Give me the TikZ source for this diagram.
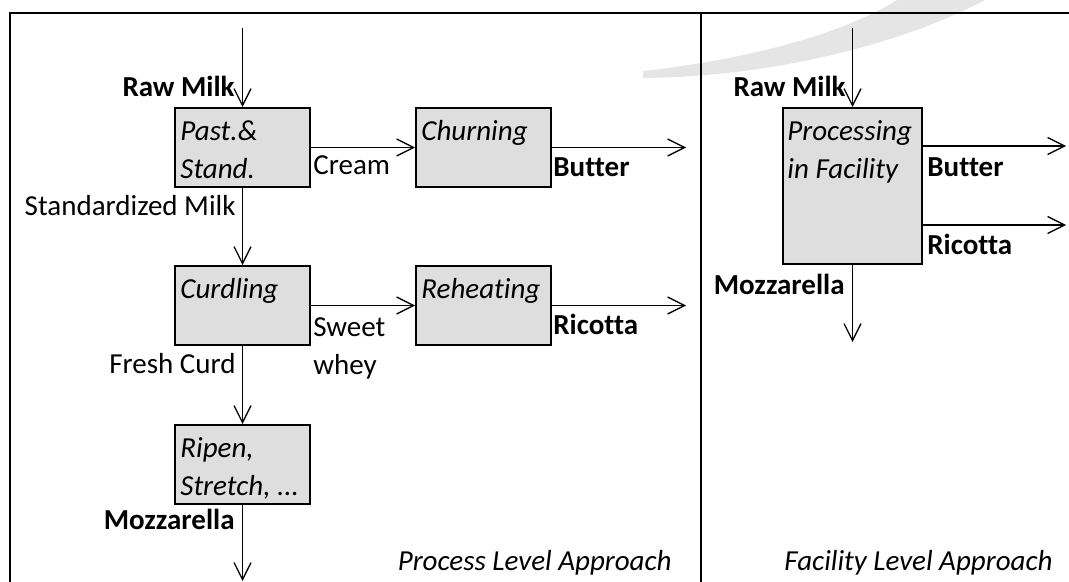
\documentclass[tikz,border=0pt]{standalone}
\usepackage{fontspec}
\setmainfont{Carlito}[Ligatures=NoCommon]
\usetikzlibrary{arrows.meta,positioning}
\begin{document}
\begin{tikzpicture}[x=0.5pt,y=-0.5pt,every node/.style={font=\fontsize{14.5}{19}\selectfont},
 box/.style={draw,line width=1pt,fill=black!13,minimum width=67.5pt,minimum height=39.5pt,inner sep=0pt,anchor=north west},
 boxtxt/.style={anchor=north west,align=left,inner sep=0pt,font=\fontsize{14.5}{19}\selectfont\itshape},
 lbl/.style={inner sep=0pt},
 prod/.style={inner sep=0pt,font=\fontsize{14.5}{19}\selectfont\bfseries},
 appr/.style={inner sep=0pt,anchor=base east,font=\fontsize{14.5}{19}\selectfont\itshape},
 arr/.style={-{Straight Barb[length=8.5pt,width=8.5pt]},line width=0.65pt},
 frame/.style={line width=1.2pt}]
\useasboundingbox (0,0) rectangle (1069,582);
\fill[black!10] (643,71) .. controls (760,58) and (850,30) .. (897,0) -- (985,0) .. controls (900,45) and (770,77) .. (643,78) -- cycle;
\draw[frame] (10,582) -- (10,13) -- (1069,13);
\draw[frame] (701,13) -- (701,582);
% process level
\node[box] (past) at (174,107) {};
\node[box,right=52pt of past] (churn) {};
\node[box,below=38.5pt of past] (curd) {};
\node[box,right=52pt of curd] (reheat) {};
\node[box,below=39pt of curd] (ripen) {};
\node[boxtxt] (pastT) at ([xshift=3pt,yshift=-6.5pt]past.north west) {Past.\&\\Stand.};
\node[boxtxt] (churnT) at ([xshift=3pt,yshift=-6.5pt]churn.north west) {Churning};
\node[boxtxt] (curdT) at ([xshift=3pt,yshift=-6.5pt]curd.north west) {Curdling};
\node[boxtxt] (reheatT) at ([xshift=3pt,yshift=-6.5pt]reheat.north west) {Reheating};
\node[boxtxt] (ripenT) at ([xshift=3pt,yshift=-6.5pt]ripen.north west) {Ripen,\\Stretch, ...};
\coordinate[above=39.5pt of past.north] (inP);
\coordinate[right=67pt of churn.east] (outPB);
\coordinate[right=67pt of reheat.east] (outPR);
\coordinate[below=38pt of ripen.south] (outPM);
\draw[arr] (inP) -- (past.north);
\draw[arr] (past.east) -- (churn.west);
\draw[arr] (churn.east) -- (outPB);
\draw[arr] (past.south) -- (curd.north);
\draw[arr] (curd.east) -- (reheat.west);
\draw[arr] (reheat.east) -- (outPR);
\draw[arr] (curd.south) -- (ripen.north);
\draw[arr] (ripen.south) -- (outPM);
\node[prod,anchor=base east] (rawP) at (235,97) {Raw Milk};
\node[lbl,anchor=base east] (std) at (236,216) {Standardized Milk};
\node[lbl,anchor=base west] (cream) at (313,175) {Cream};
\node[prod,anchor=base west] (butP) at (553,177) {Butter};
\node[lbl,anchor=north west,align=left] (sweet) at (313,317) {Sweet\\whey};
\node[lbl,anchor=base east] (fresh) at (236,373) {Fresh Curd};
\node[prod,anchor=base west] (ricP) at (553,335) {Ricotta};
\node[prod,anchor=base east] (mozP) at (235,529) {Mozzarella};
\node[appr] (procA) at (672,570) {Process Level Approach};
% facility level
\node[box,minimum width=69.5pt,minimum height=78pt] (facil) at (782,107) {};
\node[boxtxt] (facilT) at ([xshift=2.5pt,yshift=-6.5pt]facil.north west) {Processing\\in Facility};
\coordinate[above=39.5pt of facil.north] (inF);
\coordinate (fB) at ([yshift=20pt]facil.east);
\coordinate (fR) at ([yshift=-19.5pt]facil.east);
\coordinate[right=71.5pt of fB] (outFB);
\coordinate[right=71.5pt of fR] (outFR);
\coordinate[below=38.5pt of facil.south] (outFM);
\draw[arr] (inF) -- (facil.north);
\draw[arr] (fB) -- (outFB);
\draw[arr] (fR) -- (outFR);
\draw[arr] (facil.south) -- (outFM);
\node[prod,anchor=base east] (rawF) at (846,97) {Raw Milk};
\node[prod,anchor=base west] (butF) at (927,177) {Butter};
\node[prod,anchor=base west] (ricF) at (927,255) {Ricotta};
\node[prod,anchor=base east] (mozF) at (845,295) {Mozzarella};
\node[appr] (facA) at (1053,570) {Facility Level Approach};
\end{tikzpicture}
\end{document}
